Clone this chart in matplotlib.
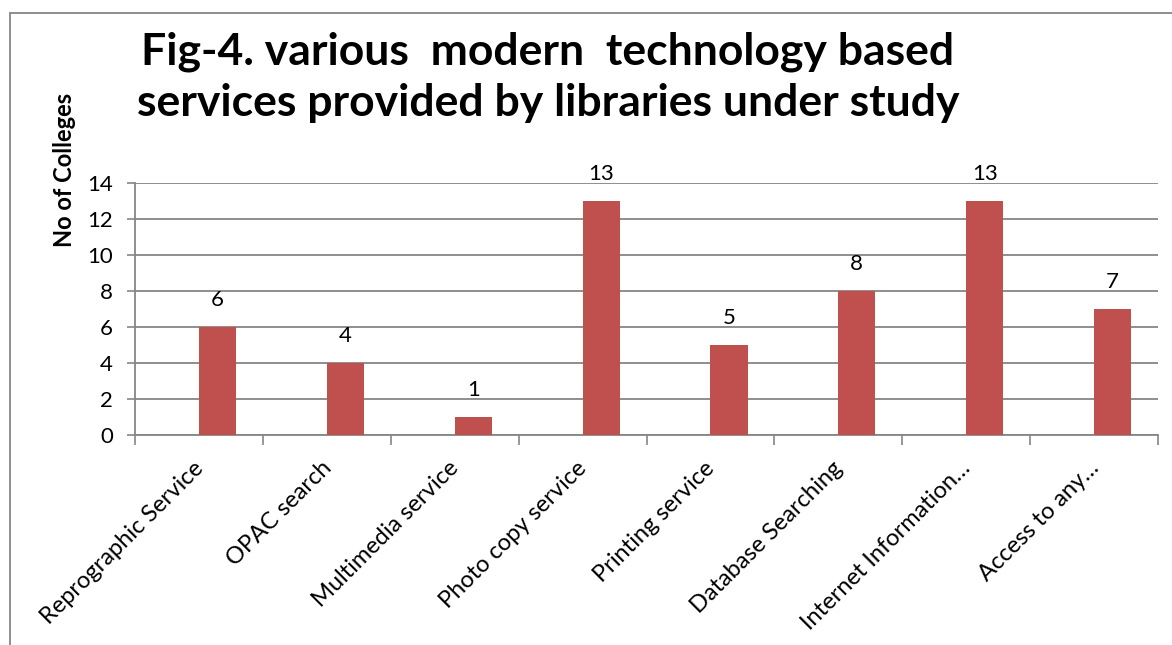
import matplotlib.pyplot as plt
from matplotlib.patches import Rectangle

services = ["Reprographic Service", "OPAC search", "Multimedia service",
            "Photo copy service", "Printing service", "Database Searching",
            "Internet Information\u2026", "Access to any\u2026"]
colleges = [6, 4, 1, 13, 5, 8, 13, 7]
y_ticks = [0, 2, 4, 6, 8, 10, 12, 14]

plt.rcParams["font.family"] = ["Lato", "DejaVu Sans"]

W, H = 1172, 645
fig = plt.figure(figsize=(W / 100, H / 100), dpi=100)
ax = fig.add_axes([135 / W, 1 - 435 / H, (1158 - 135) / W, (435 - 183) / H])

# single series drawn in the right-hand slot of a two-series cluster
bar_w = 0.29
pos = [i + bar_w / 2 for i in range(len(services))]
ax.bar(pos, colleges, width=bar_w, color="#C0504D", zorder=3)
for xi, v in zip(pos, colleges):
    ax.annotate(str(v), (xi, v), xytext=(0, 12), textcoords="offset points",
                ha="center", va="bottom", fontsize=16)

ax.set_xlim(-0.5, len(services) - 0.5)
ax.set_ylim(0, 14)
ax.set_yticks(y_ticks)
ax.tick_params(axis="y", labelsize=16, length=6, width=1.2, color="#868686", pad=10)
ax.yaxis.grid(True, color="#868686", linewidth=1.3, zorder=0)

# category labels at centres, tick marks at boundaries
ax.set_xticks([i - 0.05 for i in range(len(services))])
ax.set_xticklabels(services, rotation=45, ha="right", va="top",
                   rotation_mode="anchor", fontsize=17)
ax.tick_params(axis="x", length=0, pad=16)
ax.set_xticks([i - 0.5 for i in range(len(services) + 1)], minor=True)
ax.tick_params(axis="x", which="minor", length=7, width=1.2, color="#868686")

for side in ["top", "right"]:
    ax.spines[side].set_visible(False)
for side in ["left", "bottom"]:
    ax.spines[side].set_color("#868686")
    ax.spines[side].set_linewidth(1.3)

fig.text(548 / W, 1 - 77 / H, "Fig-4. various  modern  technology based\nservices provided by libraries under study",
         ha="center", va="center", fontsize=32, fontweight="bold", linespacing=1.33)
fig.text(64 / W, 1 - 170 / H, "No of Colleges", rotation=90, ha="center", va="center",
         fontsize=17, fontweight="bold")

# chart area border
fig.patches.append(Rectangle((10 / W, -0.1), 1.2, 1.1 - 13 / H, transform=fig.transFigure,
                             fill=False, edgecolor="#868686", linewidth=1.3))

fig.savefig("out.png", dpi=100)
